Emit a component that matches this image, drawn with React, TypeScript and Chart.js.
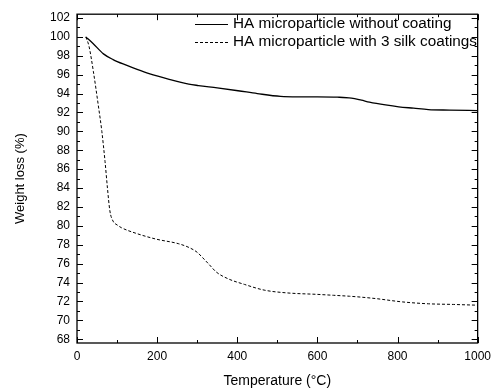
import { useEffect, useRef } from "react";
import { Chart, registerables } from "chart.js";

Chart.register(...registerables);

const xTicks = [0, 200, 400, 600, 800, 1000];
const yTicks = [68, 70, 72, 74, 76, 78, 80, 82, 84, 86, 88, 90, 92, 94, 96, 98, 100, 102];

const seriesLabels = ["HA microparticle without coating", "HA microparticle with 3 silk coatings"];

const withoutCoatingTemp = [22, 40, 66, 90, 123, 150, 180, 230, 279, 303, 350, 402, 450, 508, 550, 600, 650, 685, 710, 730, 770, 803, 840, 877, 930, 1000];
const withoutCoatingWeight = [100.0, 99.3, 98.2, 97.6, 97.0, 96.55, 96.1, 95.5, 95.0, 94.85, 94.6, 94.3, 94.0, 93.7, 93.65, 93.65, 93.62, 93.52, 93.3, 93.1, 92.8, 92.6, 92.45, 92.3, 92.25, 92.2];

const silkCoatingTemp = [22, 30, 41, 53, 62, 70, 76, 82, 90, 100, 111, 148, 197, 254, 280, 300, 312, 330, 348, 377, 418, 467, 525, 598, 640, 680, 710, 746, 812, 877, 940, 1000];
const silkCoatingWeight = [100.0, 99.0, 96.3, 92.8, 90.0, 86.8, 84.0, 81.6, 80.5, 80.1, 79.8, 79.2, 78.6, 78.1, 77.7, 77.2, 76.7, 75.9, 75.1, 74.4, 73.8, 73.2, 72.9, 72.75, 72.65, 72.55, 72.45, 72.3, 71.95, 71.75, 71.68, 71.6];

const FONT = "Arial, 'Liberation Sans', sans-serif";

const frameTicksPlugin = {
  id: "frameTicks",
  afterDraw(chart: any) {
    const { ctx, chartArea } = chart;
    const { left, right, top, bottom } = chartArea;
    const xs = chart.scales.x;
    const ys = chart.scales.y;
    ctx.save();
    ctx.strokeStyle = "#000";
    ctx.lineWidth = 1.3;
    ctx.strokeRect(left, top, right - left, bottom - top);
    ctx.lineWidth = 1;
    ctx.beginPath();
    for (let v = 0; v <= 1000; v += 100) {
      const px = Math.round(xs.getPixelForValue(v)) + 0.5;
      const len = v % 200 === 0 ? 6 : 3;
      ctx.moveTo(px, bottom);
      ctx.lineTo(px, bottom - len);
      ctx.moveTo(px, top);
      ctx.lineTo(px, top + len);
    }
    for (let v = 68; v <= 102; v += 1) {
      const py = Math.round(ys.getPixelForValue(v)) + 0.5;
      const len = v % 2 === 0 ? 6 : 3;
      ctx.moveTo(left, py);
      ctx.lineTo(left + len, py);
      ctx.moveTo(right, py);
      ctx.lineTo(right - len, py);
    }
    ctx.stroke();

    // legend
    const lx0 = 195;
    const lx1 = 228;
    const rows = [24, 42];
    ctx.font = "15.3px " + FONT;
    ctx.textBaseline = "middle";
    ctx.fillStyle = "#000";
    chart.data.datasets.forEach((ds: any, i: number) => {
      const y = rows[i] + 0.5;
      ctx.beginPath();
      ctx.lineWidth = 1;
      ctx.setLineDash(ds.borderDash || []);
      ctx.moveTo(lx0, y);
      ctx.lineTo(lx1, y);
      ctx.stroke();
      ctx.setLineDash([]);
      ctx.fillText(ds.label, 233, rows[i]);
    });
    ctx.restore();
  },
};

export default function App() {
  const ref = useRef<HTMLCanvasElement | null>(null);
  useEffect(() => {
    if (!ref.current) return;
    const chart = new Chart(ref.current, {
      type: "line",
      data: {
        datasets: [
          {
            label: seriesLabels[0],
            data: withoutCoatingTemp.map((t, i) => ({ x: t, y: withoutCoatingWeight[i] })),
            borderColor: "#000",
            borderWidth: 1.3,
            pointRadius: 0,
            cubicInterpolationMode: "monotone",
            fill: false,
          },
          {
            label: seriesLabels[1],
            data: silkCoatingTemp.map((t, i) => ({ x: t, y: silkCoatingWeight[i] })),
            borderColor: "#000",
            borderWidth: 1,
            borderDash: [3, 2],
            pointRadius: 0,
            cubicInterpolationMode: "monotone",
            fill: false,
          },
        ],
      },
      options: {
        animation: false,
        responsive: false,
        maintainAspectRatio: false,
        layout: { padding: { left: 0, right: 14, top: 12, bottom: 0 } },
        plugins: { legend: { display: false }, tooltip: { enabled: false } },
        scales: {
          x: {
            type: "linear",
            min: 0,
            max: 1000,
            grid: { display: false, drawTicks: false },
            border: { display: false },
            afterBuildTicks: (s: any) => {
              s.ticks = xTicks.map((v) => ({ value: v }));
            },
            afterFit: (s: any) => {
              s.height = 46;
            },
            ticks: {
              color: "#000",
              padding: 6,
              maxRotation: 0,
              font: { family: FONT, size: 12 },
              callback: (v: any) => String(v),
            },
            title: {
              display: true,
              text: "Temperature (°C)",
              color: "#000",
              font: { family: FONT, size: 14 },
              padding: { top: 0, bottom: -1 },
            },
          },
          y: {
            type: "linear",
            min: 67.6,
            max: 102.4,
            grid: { display: false, drawTicks: false },
            border: { display: false },
            afterBuildTicks: (s: any) => {
              s.ticks = yTicks.map((v) => ({ value: v }));
            },
            afterFit: (s: any) => {
              s.width = 77;
            },
            ticks: {
              color: "#000",
              padding: 7,
              font: { family: FONT, size: 12 },
              callback: (v: any) => String(v),
            },
            title: {
              display: true,
              text: "Weight loss (%)",
              color: "#000",
              font: { family: FONT, size: 13 },
              padding: { top: 13, bottom: 0 },
            },
          },
        },
      },
      plugins: [frameTicksPlugin],
    } as any);
    return () => chart.destroy();
  }, []);
  return (
    <div style={{ position: "fixed", left: 0, top: 0, width: 497, height: 389, background: "#fff" }}>
      <canvas ref={ref} width={497} height={389} style={{ width: 497, height: 389, display: "block" }} />
    </div>
  );
}
